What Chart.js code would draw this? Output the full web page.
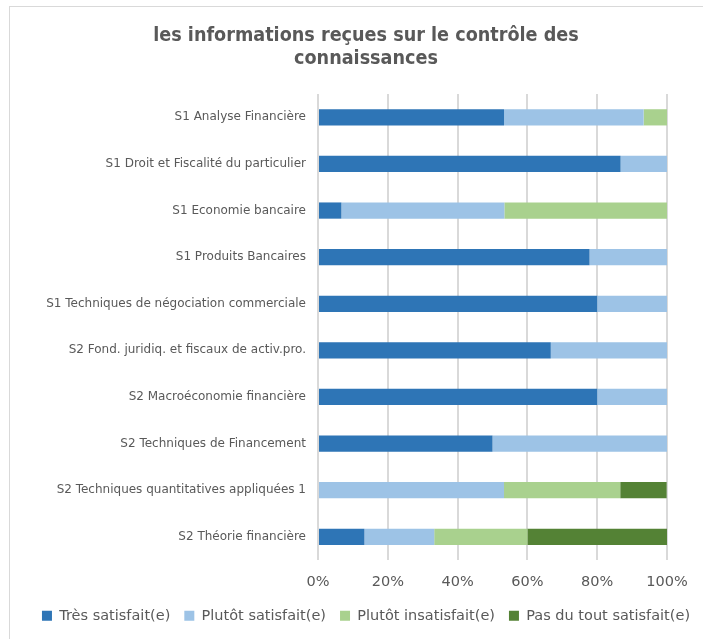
<!DOCTYPE html>
<html>
<head>
<meta charset="utf-8">
<script src="https://cdn.jsdelivr.net/npm/chart.js@4.4.1/dist/chart.umd.min.js"></script>
<style>
html,body{margin:0;padding:0;background:#fff;width:703px;height:639px;overflow:hidden;}
#box{position:absolute;left:9px;top:6px;width:760px;height:700px;border:1.5px solid #d9d9d9;box-sizing:border-box;}
#wrap{position:absolute;left:10px;top:7px;width:712px;height:632px;}
</style>
</head>
<body>
<div id="box"></div>
<div id="wrap"><canvas id="c"></canvas></div>
<script>
const categories = [
  "S1 Analyse Financière",
  "S1 Droit et Fiscalité du particulier",
  "S1 Economie bancaire",
  "S1 Produits Bancaires",
  "S1 Techniques de négociation commerciale",
  "S2 Fond. juridiq. et fiscaux de activ.pro.",
  "S2 Macroéconomie financière",
  "S2 Techniques de Financement",
  "S2 Techniques quantitatives appliquées 1",
  "S2 Théorie financière"
];
const seriesNames = ["Très satisfait(e)", "Plutôt satisfait(e)", "Plutôt insatisfait(e)", "Pas du tout satisfait(e)"];
const tresSatisfait       = [53.3, 86.7, 6.7, 77.8, 80, 66.7, 80, 50, 0, 13.3];
const plutotSatisfait     = [40, 13.3, 46.7, 22.2, 20, 33.3, 20, 50, 53.3, 20];
const plutotInsatisfait   = [6.7, 0, 46.7, 0, 0, 0, 0, 0, 33.3, 26.7];
const pasDuToutSatisfait  = [0, 0, 0, 0, 0, 0, 0, 0, 13.3, 40];
const xTicks = [0, 20, 40, 60, 80, 100];
const colors = ["#2E75B6", "#9DC3E6", "#A9D18E", "#548235"];
const title = ["les informations reçues sur le contrôle des", "connaissances"];

const seriesData = [tresSatisfait, plutotSatisfait, plutotInsatisfait, pasDuToutSatisfait];
const FONT = "'DejaVu Sans', sans-serif";
const FONT_C = "'DejaVu Sans Condensed', 'DejaVu Sans', sans-serif";

new Chart(document.getElementById('c'), {
  type: 'bar',
  data: {
    labels: categories,
    datasets: seriesNames.map((n, i) => ({
      label: n,
      data: seriesData[i],
      backgroundColor: colors[i],
      borderWidth: 0,
      barPercentage: 0.6,
      categoryPercentage: 0.58
    }))
  },
  options: {
    indexAxis: 'y',
    responsive: true,
    maintainAspectRatio: false,
    animation: false,
    layout: { padding: { left: 0, right: 0, top: 12, bottom: 6 } },
    scales: {
      x: {
        stacked: true, min: 0, max: 100,
        afterBuildTicks: ax => { ax.ticks = xTicks.map(v => ({ value: v })); },
        ticks: { callback: v => v + '%', color: '#595959', font: { family: FONT, size: 14.5 }, padding: 13 },
        grid: { color: '#d9d9d9', lineWidth: 2, drawTicks: false },
        border: { display: false },
        afterFit: ax => { ax.height = ax.height - 9; }
      },
      y: {
        stacked: true,
        ticks: { color: '#595959', font: { family: FONT, size: 12 }, padding: 12 },
        grid: { display: false, drawTicks: false },
        border: { display: false },
        afterFit: ax => { ax.width = 308; }
      },
      y2: {
        type: 'category',
        position: 'right',
        ticks: { display: false },
        grid: { display: false, drawTicks: false },
        border: { display: false },
        afterFit: ax => { ax.width = 55; }
      }
    },
    plugins: {
      title: {
        display: true, text: title, color: '#595959',
        font: { family: FONT_C, size: 19.6, weight: 'bold' },
        padding: { top: 5, bottom: 23 }, lineHeight: 1.3
      },
      legend: {
        position: 'bottom',
        labels: { boxWidth: 10, boxHeight: 10, color: '#595959', font: { family: FONT, size: 14.5 }, padding: 14 }
      },
      tooltip: { enabled: false }
    }
  }
});
</script>
</body>
</html>
